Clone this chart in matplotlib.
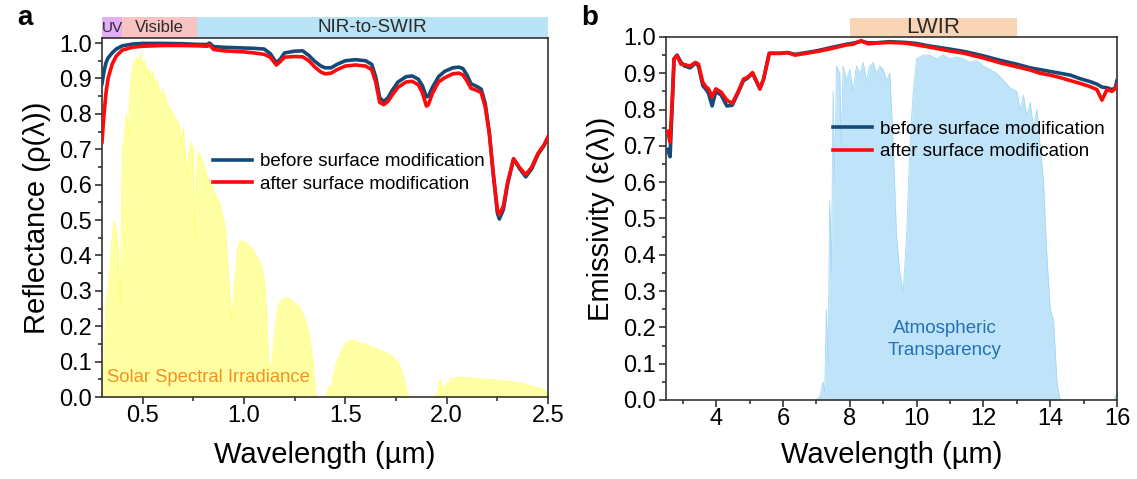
import matplotlib
matplotlib.use("Agg")
import matplotlib.pyplot as plt
from matplotlib.patches import Rectangle
from matplotlib.transforms import blended_transform_factory
from matplotlib.ticker import MultipleLocator

plt.rcParams['font.family'] = ['Liberation Sans', 'DejaVu Sans']

# ---- panel a: solar reflectance ----
wl_a = [0.30, 0.31, 0.32, 0.33, 0.35, 0.37, 0.40, 0.45, 0.50, 0.60, 0.70, 0.78, 0.82, 0.83,
        0.85, 0.90, 1.00, 1.05, 1.10, 1.13, 1.16, 1.18, 1.20, 1.25, 1.29, 1.32, 1.35, 1.38,
        1.40, 1.43, 1.46, 1.50, 1.55, 1.60, 1.63, 1.65, 1.67, 1.69, 1.71, 1.73, 1.76, 1.80,
        1.83, 1.86, 1.88, 1.90, 1.91, 1.93, 1.96, 1.99, 2.03, 2.06, 2.08, 2.10, 2.12, 2.15,
        2.17, 2.19, 2.21, 2.23, 2.25, 2.26, 2.28, 2.30, 2.33, 2.36, 2.39, 2.42, 2.45, 2.48, 2.50]
refl_before = [0.885, 0.92, 0.945, 0.958, 0.972, 0.983, 0.992, 0.997, 0.999, 0.999, 0.998, 0.996,
               0.996, 1.0, 0.99, 0.988, 0.986, 0.985, 0.983, 0.97, 0.944, 0.955, 0.972, 0.977,
               0.978, 0.965, 0.948, 0.935, 0.93, 0.93, 0.94, 0.95, 0.953, 0.95, 0.94, 0.905,
               0.845, 0.835, 0.845, 0.865, 0.89, 0.905, 0.907, 0.898, 0.88, 0.848, 0.85, 0.875,
               0.905, 0.92, 0.93, 0.932, 0.928, 0.91, 0.885, 0.877, 0.87, 0.83, 0.75, 0.63,
               0.52, 0.503, 0.53, 0.60, 0.673, 0.645, 0.622, 0.645, 0.685, 0.71, 0.735]
refl_after = [0.72, 0.80, 0.86, 0.90, 0.94, 0.963, 0.98, 0.988, 0.991, 0.993, 0.993, 0.992,
              0.991, 0.995, 0.982, 0.978, 0.975, 0.972, 0.968, 0.96, 0.938, 0.948, 0.96, 0.962,
              0.961, 0.95, 0.932, 0.918, 0.913, 0.915, 0.925, 0.935, 0.938, 0.935, 0.925, 0.89,
              0.832, 0.826, 0.835, 0.852, 0.875, 0.89, 0.892, 0.882, 0.86, 0.822, 0.826, 0.858,
              0.89, 0.902, 0.913, 0.915, 0.91, 0.893, 0.872, 0.866, 0.86, 0.82, 0.745, 0.63,
              0.53, 0.515, 0.54, 0.605, 0.673, 0.648, 0.628, 0.65, 0.688, 0.712, 0.735]

# normalised solar spectral irradiance
wl_sun = [0.30, 0.31, 0.32, 0.33, 0.34, 0.35, 0.36, 0.37, 0.38, 0.39, 0.40, 0.41, 0.42, 0.43,
          0.44, 0.45, 0.46, 0.47, 0.48, 0.49, 0.50, 0.51, 0.52, 0.53, 0.54, 0.55, 0.56, 0.57,
          0.58, 0.59, 0.60, 0.62, 0.64, 0.66, 0.68, 0.69, 0.70, 0.71, 0.72, 0.73, 0.74, 0.75,
          0.76, 0.77, 0.78, 0.80, 0.82, 0.84, 0.86, 0.88, 0.90, 0.91, 0.92, 0.93, 0.94, 0.95,
          0.96, 0.97, 0.98, 1.00, 1.02, 1.04, 1.06, 1.08, 1.10, 1.11, 1.12, 1.13, 1.14, 1.15,
          1.16, 1.17, 1.18, 1.20, 1.22, 1.24, 1.26, 1.28, 1.30, 1.32, 1.34, 1.35, 1.36, 1.38,
          1.40, 1.41, 1.42, 1.43, 1.44, 1.45, 1.46, 1.48, 1.50, 1.52, 1.54, 1.56, 1.58, 1.60,
          1.62, 1.64, 1.66, 1.68, 1.70, 1.72, 1.74, 1.76, 1.78, 1.79, 1.80, 1.81, 1.82, 1.90,
          1.93, 1.95, 1.96, 1.97, 1.98, 1.99, 2.00, 2.01, 2.02, 2.03, 2.05, 2.10, 2.15, 2.20,
          2.25, 2.30, 2.33, 2.35, 2.38, 2.40, 2.42, 2.44, 2.46, 2.48, 2.50]
sun = [0.0, 0.12, 0.27, 0.30, 0.36, 0.45, 0.50, 0.47, 0.40, 0.25, 0.70, 0.73, 0.80, 0.74,
       0.88, 0.93, 0.95, 0.96, 0.94, 0.97, 0.94, 0.95, 0.91, 0.93, 0.90, 0.92, 0.88, 0.90,
       0.87, 0.85, 0.87, 0.83, 0.81, 0.79, 0.77, 0.72, 0.76, 0.70, 0.62, 0.70, 0.72, 0.70,
       0.45, 0.68, 0.69, 0.66, 0.62, 0.60, 0.57, 0.55, 0.50, 0.46, 0.38, 0.28, 0.22, 0.30,
       0.35, 0.42, 0.44, 0.44, 0.43, 0.42, 0.40, 0.38, 0.33, 0.25, 0.12, 0.08, 0.10, 0.18,
       0.22, 0.26, 0.27, 0.28, 0.28, 0.27, 0.26, 0.25, 0.22, 0.18, 0.10, 0.02, 0.0, 0.0,
       0.0, 0.01, 0.03, 0.02, 0.06, 0.08, 0.10, 0.13, 0.15, 0.16, 0.16, 0.155, 0.15, 0.15,
       0.145, 0.14, 0.135, 0.13, 0.125, 0.12, 0.11, 0.10, 0.07, 0.05, 0.02, 0.005, 0.0, 0.0,
       0.0, 0.01, 0.03, 0.05, 0.02, 0.03, 0.04, 0.035, 0.055, 0.05, 0.055, 0.055, 0.052, 0.05,
       0.048, 0.045, 0.043, 0.04, 0.038, 0.035, 0.03, 0.028, 0.025, 0.02, 0.005]

# ---- panel b: thermal emissivity ----
wl_b = [2.55, 2.62, 2.68, 2.74, 2.83, 2.95, 3.05, 3.22, 3.38, 3.47, 3.60, 3.70, 3.77, 3.88,
        3.99, 4.15, 4.32, 4.48, 4.65, 4.82, 4.93, 5.09, 5.20, 5.31, 5.42, 5.59, 5.92, 6.14,
        6.36, 6.7, 7.02, 7.4, 7.9, 8.1, 8.34, 8.55, 8.78, 9.2, 9.67, 10.0, 10.33, 10.9,
        11.43, 12.0, 12.53, 13.0, 13.4, 13.7, 14.0, 14.3, 14.6, 14.9, 15.2, 15.4, 15.55,
        15.7, 15.85, 15.95, 16.0]
emis_before = [0.69, 0.67, 0.80, 0.94, 0.95, 0.93, 0.92, 0.915, 0.928, 0.92, 0.866, 0.855,
               0.845, 0.81, 0.85, 0.84, 0.81, 0.812, 0.845, 0.88, 0.886, 0.90, 0.878, 0.857,
               0.884, 0.955, 0.955, 0.957, 0.952, 0.957, 0.962, 0.97, 0.98, 0.983, 0.988,
               0.984, 0.984, 0.987, 0.985, 0.982, 0.976, 0.968, 0.96, 0.948, 0.935, 0.925,
               0.915, 0.91, 0.905, 0.90, 0.895, 0.885, 0.877, 0.87, 0.862, 0.86, 0.855, 0.86,
               0.88]
emis_after = [0.74, 0.71, 0.82, 0.94, 0.948, 0.925, 0.924, 0.92, 0.93, 0.925, 0.875, 0.862,
              0.857, 0.835, 0.857, 0.848, 0.826, 0.817, 0.848, 0.884, 0.888, 0.902, 0.88, 0.857,
              0.884, 0.955, 0.955, 0.957, 0.95, 0.955, 0.96, 0.967, 0.978, 0.98, 0.99, 0.981,
              0.983, 0.985, 0.983, 0.978, 0.973, 0.963, 0.955, 0.942, 0.928, 0.918, 0.909,
              0.90, 0.895, 0.888, 0.88, 0.872, 0.863, 0.855, 0.826, 0.855, 0.85, 0.858, 0.868]

# atmospheric transmittance (shaded area)
wl_atm = [7.0, 7.1, 7.2, 7.25, 7.3, 7.35, 7.4, 7.45, 7.5, 7.55, 7.6, 7.7, 7.75, 7.8, 7.9,
          8.0, 8.1, 8.2, 8.3, 8.4, 8.5, 8.6, 8.7, 8.8, 8.9, 9.0, 9.1, 9.2, 9.3, 9.4, 9.5,
          9.6, 9.7, 9.8, 9.9, 10.0, 10.2, 10.4, 10.6, 10.8, 11.0, 11.2, 11.4, 11.6, 11.8,
          12.0, 12.2, 12.4, 12.6, 12.8, 13.0, 13.1, 13.2, 13.3, 13.4, 13.5, 13.6, 13.7, 13.8,
          13.9, 14.0, 14.1, 14.2, 14.3, 15.9, 16.0]
atm = [0.0, 0.01, 0.05, 0.02, 0.25, 0.10, 0.55, 0.35, 0.85, 0.60, 0.92, 0.90, 0.70, 0.92,
       0.88, 0.91, 0.85, 0.92, 0.90, 0.93, 0.88, 0.92, 0.93, 0.90, 0.92, 0.91, 0.88, 0.90,
       0.70, 0.45, 0.35, 0.30, 0.45, 0.70, 0.85, 0.94, 0.95, 0.95, 0.94, 0.95, 0.94, 0.945,
       0.94, 0.93, 0.935, 0.92, 0.91, 0.90, 0.88, 0.86, 0.85, 0.80, 0.84, 0.78, 0.82, 0.75,
       0.80, 0.70, 0.60, 0.40, 0.25, 0.22, 0.05, 0.0, 0.0, 0.02]

c_before = '#154a78'
c_after = '#ff0a0a'
edge = '#333333'

fig = plt.figure(figsize=(11.37, 4.79), dpi=100)
ax1 = fig.add_axes([0.0897, 0.171, 0.3923, 0.7495])
ax2 = fig.add_axes([0.5858, 0.165, 0.3966, 0.7578])


def style(ax):
    for s in ax.spines.values():
        s.set_color(edge)
        s.set_linewidth(1.2)
    ax.tick_params(which='both', direction='out', color=edge, width=1.2,
                   labelsize=17, top=False, right=False)
    ax.tick_params(which='major', length=5)
    ax.tick_params(which='minor', length=3)
    ax.tick_params(axis='x', pad=1)
    ax.tick_params(axis='y', pad=2)


# panel a
ax1.fill_between(wl_sun, 0, sun, color='#ffff94', alpha=0.85, lw=0, zorder=1)
ax1.plot(wl_sun, sun, color='#ffff70', lw=0.6, zorder=1)
ax1.plot(wl_a, refl_before, color=c_before, lw=2.6, label='before surface modification', zorder=3)
ax1.plot(wl_a, refl_after, color=c_after, lw=2.6, label='after surface modification', zorder=4)
ax1.set_xlim(0.3, 2.5)
ax1.set_ylim(0, 1.014)
ax1.xaxis.set_major_locator(MultipleLocator(0.5))
ax1.xaxis.set_minor_locator(MultipleLocator(0.25))
ax1.yaxis.set_major_locator(MultipleLocator(0.1))
ax1.yaxis.set_minor_locator(MultipleLocator(0.05))
style(ax1)
ax1.set_xlabel('Wavelength (µm)', fontsize=21, labelpad=10)
ax1.set_ylabel('Reflectance (ρ(λ))', fontsize=21, labelpad=6)
ax1.text(0.325, 0.054, 'Solar Spectral Irradiance', color='#f7901e', fontsize=13.3,
         va='center', ha='left', zorder=5)
ax1.legend(loc='upper left', bbox_to_anchor=(0.249, 0.68), frameon=False, fontsize=13.5,
           handlelength=2.1, handletextpad=0.4, labelspacing=0.3, borderpad=0,
           borderaxespad=0)

tr1 = blended_transform_factory(ax1.transData, ax1.transAxes)
bands_a = [(0.3, 0.4, '#e3aef5', 'UV', 11),
           (0.4, 0.77, '#f9c3c3', 'Visible', 12),
           (0.77, 2.5, '#b9e4f8', 'NIR-to-SWIR', 13.5)]
for x0, x1, col, name, fs in bands_a:
    ax1.add_patch(Rectangle((x0, 1.0), x1 - x0, 0.058, transform=tr1, color=col,
                            clip_on=False, lw=0, zorder=0))
    ax1.text((x0 + x1) / 2, 1.029, name, transform=tr1, ha='center', va='center',
             fontsize=fs, color='#2a2a2a')

# panel b
ax2.fill_between(wl_atm, 0, atm, color='#bfe4fa', lw=0, zorder=1)
ax2.plot(wl_atm, atm, color='#a6d8f6', lw=0.6, zorder=1)
ax2.plot(wl_b, emis_before, color=c_before, lw=2.6, label='before surface modification', zorder=3)
ax2.plot(wl_b, emis_after, color=c_after, lw=2.6, label='after surface modification', zorder=4)
ax2.set_xlim(2.5, 16)
ax2.set_ylim(0, 1.0)
ax2.xaxis.set_major_locator(MultipleLocator(2))
ax2.xaxis.set_minor_locator(MultipleLocator(1))
ax2.yaxis.set_major_locator(MultipleLocator(0.1))
ax2.yaxis.set_minor_locator(MultipleLocator(0.05))
style(ax2)
ax2.set_xlabel('Wavelength (µm)', fontsize=21, labelpad=8)
ax2.set_ylabel('Emissivity (ε(λ))', fontsize=21, labelpad=6)
ax2.text(10.85, 0.166, 'Atmospheric\nTransparency', color='#2372b5', fontsize=13.5,
         ha='center', va='center', linespacing=1.35, zorder=5)
ax2.legend(loc='upper left', bbox_to_anchor=(0.37, 0.77), frameon=False, fontsize=13.5,
           handlelength=2.1, handletextpad=0.4, labelspacing=0.3, borderpad=0,
           borderaxespad=0)

tr2 = blended_transform_factory(ax2.transData, ax2.transAxes)
ax2.add_patch(Rectangle((8, 1.0), 5, 0.052, transform=tr2, color='#f9d5b5',
                        clip_on=False, lw=0, zorder=0))
ax2.text(10.5, 1.026, 'LWIR', transform=tr2, ha='center', va='center', fontsize=16,
         color='#2a2a2a')

fig.text(0.022, 0.962, 'a', fontsize=20, fontweight='bold', ha='center', va='center')
fig.text(0.519, 0.962, 'b', fontsize=20, fontweight='bold', ha='center', va='center')

fig.savefig('out.png', dpi=100)
